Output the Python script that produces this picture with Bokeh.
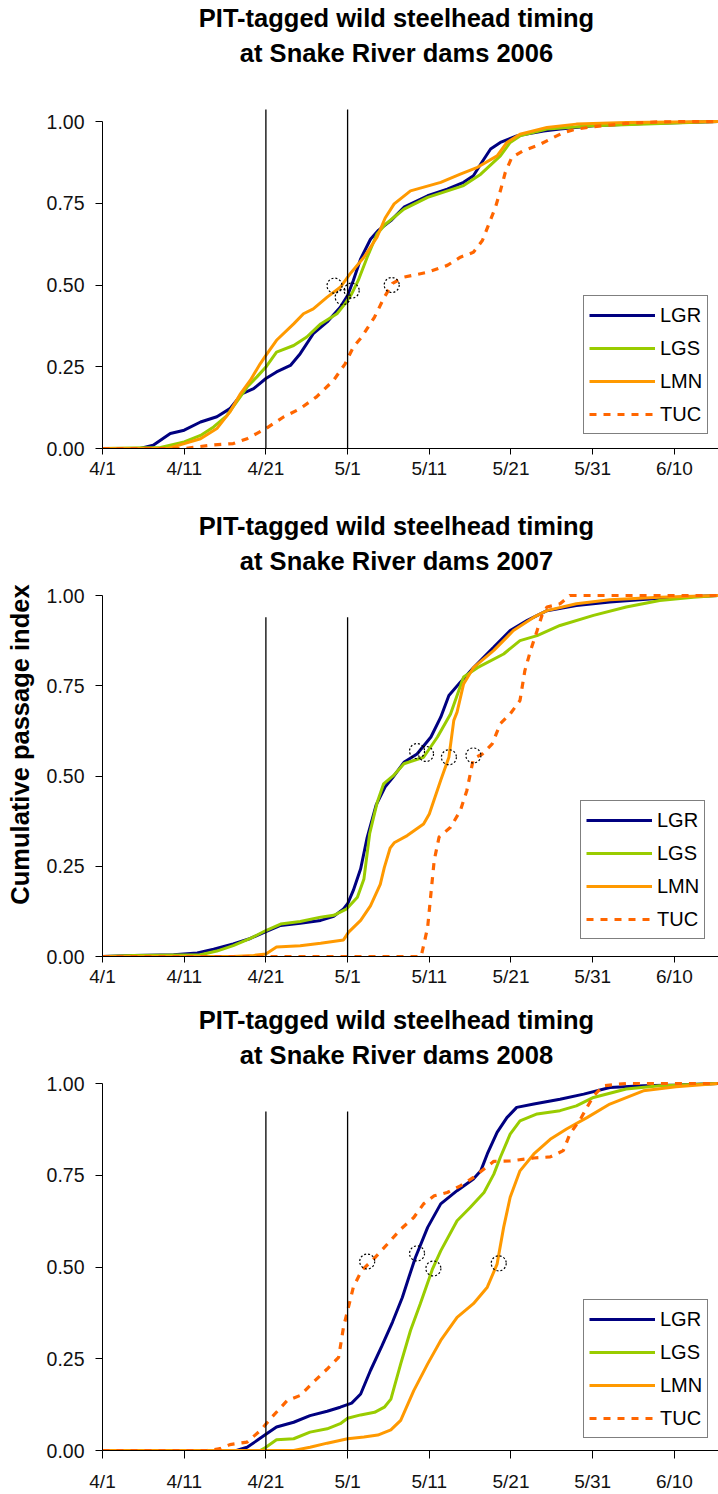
import math
from bokeh.plotting import figure
from bokeh.layouts import column, row
from bokeh.models import Range1d, FixedTicker, Legend, LegendItem, Label
from bokeh.embed import file_html
from bokeh.resources import INLINE

# ---------------- data ----------------
tick_days = [0, 10, 20, 30, 40, 50, 60, 70]
tick_labels = ["4/1", "4/11", "4/21", "5/1", "5/11", "5/21", "5/31", "6/10"]
y_ticks = [0, 0.25, 0.5, 0.75, 1.0]
y_tick_labels = ["0.00", "0.25", "0.50", "0.75", "1.00"]
sites = ["LGR", "LGS", "LMN", "TUC"]
years = ["2006", "2007", "2008"]
title_line1 = "PIT-tagged wild steelhead timing"
title_line2 = "at Snake River dams "
y_label = "Cumulative passage index"
vline_days = [20, 30]          # 4/21 and 5/1
vline_top = [1.037, 0.94, 0.924]

# 2006
lgr06_day = [0, 4.6, 6.2, 8.3, 10, 12, 14, 15.6, 17.1, 18.5, 20, 21.3, 23, 24.2, 25.8, 27.5, 29.1, 30, 30.7, 31.6, 32.8, 33.8, 35.3, 36.9, 39.8, 42.2, 44.2, 45.4, 46.3, 47.5, 48.7, 50.7, 54, 56, 60.1, 66.2, 71.1, 75.4]
lgr06_val = [0, 0, 0.01, 0.046, 0.056, 0.081, 0.097, 0.122, 0.168, 0.183, 0.214, 0.234, 0.254, 0.29, 0.351, 0.387, 0.432, 0.468, 0.514, 0.58, 0.64, 0.668, 0.697, 0.738, 0.773, 0.793, 0.814, 0.834, 0.87, 0.916, 0.936, 0.956, 0.971, 0.977, 0.987, 0.994, 0.997, 1.0]
lgs06_day = [0, 7.1, 10, 12, 13.6, 15.2, 16.4, 17.7, 18.9, 20, 21.3, 23.4, 25, 26.7, 28.7, 29.7, 30.5, 31.3, 32.4, 33.6, 34.6, 36.9, 39.8, 44.2, 46.3, 48.7, 49.9, 51.1, 54.4, 60.1, 66.6, 75.4]
lgs06_val = [0, 0.003, 0.02, 0.04, 0.066, 0.10, 0.142, 0.188, 0.219, 0.249, 0.295, 0.315, 0.341, 0.381, 0.412, 0.443, 0.473, 0.514, 0.585, 0.656, 0.685, 0.732, 0.768, 0.804, 0.839, 0.895, 0.936, 0.956, 0.977, 0.987, 0.992, 1.0]
lmn06_day = [0, 8, 10, 12, 14, 15.6, 16.9, 18.1, 19.3, 20, 21.3, 23.4, 24.6, 25.8, 27.5, 29.1, 30.3, 32, 33.6, 34.6, 35.7, 37.7, 41.4, 43.8, 45.9, 48.3, 49.5, 51.1, 54.4, 58, 64.1, 75.4]
lmn06_val = [0, 0, 0.015, 0.03, 0.061, 0.112, 0.168, 0.209, 0.259, 0.285, 0.331, 0.381, 0.412, 0.427, 0.463, 0.493, 0.534, 0.585, 0.646, 0.705, 0.748, 0.788, 0.814, 0.839, 0.86, 0.895, 0.936, 0.961, 0.982, 0.992, 0.997, 1.0]
tuc06_day = [0, 10, 13.2, 16, 17.7, 20, 22.2, 24.2, 26.2, 28.3, 29.7, 30.7, 31.7, 33.3, 34.5, 35.5, 36.9, 39.8, 42.2, 43.8, 45.4, 46.5, 47.3, 48.1, 48.7, 49.3, 50.1, 51.5, 53.2, 54.8, 56.4, 58, 60.1, 64.1, 68.2, 75.4]
tuc06_val = [0, 0, 0.01, 0.015, 0.03, 0.061, 0.097, 0.122, 0.158, 0.209, 0.259, 0.31, 0.34, 0.402, 0.463, 0.505, 0.524, 0.539, 0.56, 0.585, 0.6, 0.636, 0.687, 0.738, 0.788, 0.844, 0.89, 0.911, 0.926, 0.946, 0.966, 0.977, 0.984, 0.994, 0.999, 1.0]
med06_day = [28.4, 29.4, 30.5, 35.4]
med06_val = [0.498, 0.463, 0.483, 0.50]

# 2007
lgr07_day = [0, 3.8, 8.7, 11.6, 13.6, 16, 18.1, 20, 21.8, 24.2, 26.7, 28.3, 29.5, 30, 30.7, 31.6, 32.4, 33.5, 34.6, 35.5, 36.9, 38.5, 40.2, 41.4, 42.4, 43.8, 45.4, 47.9, 49.9, 52, 54.4, 58, 62.1, 67.4, 72.3, 75.4]
lgr07_val = [0, 0.003, 0.005, 0.01, 0.02, 0.035, 0.05, 0.069, 0.086, 0.092, 0.10, 0.111, 0.132, 0.146, 0.183, 0.243, 0.33, 0.42, 0.47, 0.495, 0.538, 0.561, 0.608, 0.663, 0.723, 0.76, 0.80, 0.857, 0.903, 0.931, 0.958, 0.972, 0.982, 0.991, 0.997, 1.0]
lgs07_day = [0, 3.8, 12, 14, 16, 18.1, 20, 21.8, 24.2, 26.7, 28.3, 29.9, 31.2, 32, 32.7, 33.6, 34.4, 35.6, 36.9, 39.3, 41, 42.6, 44.2, 45.9, 49.1, 51.1, 53.2, 56, 60.1, 64.1, 68.2, 72.3, 75.4]
lgs07_val = [0, 0.003, 0.005, 0.015, 0.03, 0.05, 0.072, 0.09, 0.097, 0.109, 0.114, 0.132, 0.164, 0.215, 0.34, 0.425, 0.478, 0.501, 0.534, 0.552, 0.608, 0.672, 0.774, 0.80, 0.838, 0.875, 0.889, 0.917, 0.945, 0.968, 0.986, 0.995, 1.0]
lmn07_day = [0, 16, 18.5, 20, 21.3, 24.2, 26.7, 29.5, 30.1, 31.6, 32.8, 34, 34.5, 35.2, 35.7, 37.3, 39.3, 40, 41.4, 42.4, 43, 43.4, 44.2, 45.4, 47.9, 50.3, 52.8, 54.4, 58, 62.1, 68.2, 75.4]
lmn07_val = [0, 0, 0.003, 0.007, 0.026, 0.03, 0.037, 0.046, 0.067, 0.10, 0.14, 0.20, 0.247, 0.30, 0.315, 0.335, 0.367, 0.395, 0.488, 0.552, 0.654, 0.677, 0.755, 0.80, 0.848, 0.903, 0.94, 0.958, 0.977, 0.988, 0.995, 1.0]
tuc07_day = [0, 39, 39.3, 39.8, 40.2, 40.6, 41.2, 42.6, 43.8, 44.6, 45.4, 46.5, 47.7, 48.7, 49.9, 51.1, 51.7, 52.4, 53.2, 53.8, 54.4, 56, 57.2, 75.4]
tuc07_val = [0, 0, 0.03, 0.081, 0.174, 0.266, 0.331, 0.358, 0.404, 0.46, 0.548, 0.561, 0.589, 0.645, 0.672, 0.709, 0.792, 0.848, 0.903, 0.945, 0.968, 0.977, 1.0, 1.0]
med07_day = [38.5, 39.6, 42.4, 45.4]
med07_val = [0.569, 0.561, 0.552, 0.557]

# 2008
lgr08_day = [0, 16.4, 17.7, 18.9, 20, 21.3, 23.4, 25.4, 27.5, 29.1, 30.5, 31.6, 32.8, 34.2, 35.5, 36.7, 37.5, 38.3, 39.8, 41.4, 43.4, 45.4, 46.3, 47.1, 48.3, 49.5, 50.7, 52.8, 56, 58.9, 62.1, 66.2, 70.2, 75.4]
lgr08_val = [0, 0, 0.009, 0.027, 0.044, 0.064, 0.077, 0.095, 0.107, 0.118, 0.129, 0.154, 0.218, 0.285, 0.35, 0.417, 0.472, 0.526, 0.608, 0.672, 0.708, 0.74, 0.762, 0.808, 0.867, 0.907, 0.935, 0.944, 0.957, 0.971, 0.989, 0.994, 0.996, 1.0]
lgs08_day = [0, 19.3, 20, 21.3, 23.4, 25.4, 27.5, 29.1, 30, 31.6, 33.3, 34.5, 35.3, 36.5, 37.7, 38.9, 40.4, 41.4, 43.4, 45, 46.7, 47.9, 48.7, 49.9, 51.1, 53.2, 56, 58, 60.1, 64.1, 68.2, 75.4]
lgs08_val = [0, 0, 0.009, 0.029, 0.032, 0.05, 0.059, 0.073, 0.088, 0.097, 0.104, 0.118, 0.14, 0.236, 0.327, 0.40, 0.495, 0.544, 0.626, 0.662, 0.703, 0.753, 0.799, 0.862, 0.898, 0.917, 0.926, 0.939, 0.962, 0.985, 0.994, 1.0]
lmn08_day = [0, 23.4, 25.4, 27.5, 30, 32, 33.7, 35.3, 36.5, 38.1, 39.8, 41.4, 43.4, 45.4, 47.1, 48.3, 49.1, 49.9, 51.1, 52.8, 54.8, 56.8, 59.3, 62.1, 66.2, 70.2, 75.4]
lmn08_val = [0, 0, 0.009, 0.02, 0.032, 0.037, 0.042, 0.056, 0.082, 0.163, 0.236, 0.30, 0.363, 0.40, 0.445, 0.508, 0.608, 0.69, 0.762, 0.808, 0.848, 0.876, 0.907, 0.944, 0.98, 0.991, 1.0]
tuc08_day = [0, 12.8, 14.4, 15.6, 17.7, 19.3, 20.9, 22.6, 24.2, 25.8, 27.5, 28.9, 29.5, 30, 30.7, 31.7, 33.2, 34.9, 36.5, 38.1, 39.3, 40.6, 42.2, 43.8, 45.4, 46.7, 47.9, 49.9, 52.8, 54.8, 56.4, 57.2, 58.5, 59.3, 60.1, 61.3, 64.1, 75.4]
tuc08_val = [0, 0, 0.005, 0.016, 0.023, 0.054, 0.095, 0.136, 0.15, 0.186, 0.222, 0.254, 0.336, 0.381, 0.445, 0.49, 0.522, 0.563, 0.603, 0.635, 0.672, 0.694, 0.703, 0.721, 0.744, 0.767, 0.788, 0.789, 0.797, 0.80, 0.817, 0.862, 0.903, 0.935, 0.966, 0.994, 1.0, 1.0]
med08_day = [32.4, 38.5, 40.5, 48.5]
med08_val = [0.515, 0.537, 0.496, 0.51]

series_by_year = [
    [(lgr06_day, lgr06_val), (lgs06_day, lgs06_val), (lmn06_day, lmn06_val), (tuc06_day, tuc06_val)],
    [(lgr07_day, lgr07_val), (lgs07_day, lgs07_val), (lmn07_day, lmn07_val), (tuc07_day, tuc07_val)],
    [(lgr08_day, lgr08_val), (lgs08_day, lgs08_val), (lmn08_day, lmn08_val), (tuc08_day, tuc08_val)],
]
medians_by_year = [(med06_day, med06_val), (med07_day, med07_val), (med08_day, med08_val)]

# ---------------- style / layout ----------------
FONT = "Liberation Sans"
colors = ["#000080", "#99cc00", "#ff9900", "#ff6600"]
dashes = ["solid", "solid", "solid", "7 7"]
YLAB_W = 40
TITLE_Y = (431, 396)   # screen offsets of the two title lines above the frame bottom

# frame covers the title area too (y axis itself is bounded to 0..1)
panel_cfg = [
    dict(w=718, h=490, left=102, y_end=448 / 327, bottom=42, xstand=3, xtick=6, leg=(481, 14)),
    dict(w=718 - YLAB_W, h=500, left=102 - YLAB_W, y_end=466 / 361, bottom=34, xstand=3, xtick=6, leg=(478, 17)),
    dict(w=718, h=504, left=102, y_end=460 / 367, bottom=44, xstand=12, xtick=8, leg=(481, 12)),
]


def make_panel(i, yr):
    cfg = panel_cfg[i]
    p = figure(width=cfg["w"], height=cfg["h"], output_backend="svg", toolbar_location=None,
               x_range=Range1d(0, 75.4), y_range=Range1d(0, cfg["y_end"]), title=None,
               min_border_left=cfg["left"], min_border_right=0, min_border_top=0,
               min_border_bottom=cfg["bottom"])
    p.outline_line_color = None
    p.xgrid.visible = False
    p.ygrid.visible = False
    p.background_fill_color = "white"
    p.border_fill_color = "white"

    for txt, ty in ((title_line1, TITLE_Y[0]), (title_line2 + yr, TITLE_Y[1])):
        p.add_layout(Label(x=294, y=ty, x_units="screen", y_units="screen", text=txt,
                           text_align="center", text_baseline="alphabetic",
                           text_font=FONT, text_font_size="25.5px", text_font_style="bold",
                           text_color="#000000"))

    renderers = []
    for (d, v), c, dash in zip(series_by_year[i], colors, dashes):
        r = p.line(d, v, line_color=c, line_width=3 if dash == "solid" else 3.2, line_dash=dash)
        renderers.append(r)

    p.segment(x0=vline_days, y0=[0] * len(vline_days), x1=vline_days,
              y1=[vline_top[i]] * len(vline_days), line_color="black", line_width=1.3)

    md, mv = medians_by_year[i]
    p.scatter(md, mv, marker="circle", size=15, fill_color=None, line_color="black",
              line_width=1.2, line_dash="2 2")

    xa = p.xaxis[0]
    xa.ticker = FixedTicker(ticks=tick_days)
    xa.major_label_overrides = {d: l for d, l in zip(tick_days, tick_labels)}
    xa.major_tick_in = 0
    xa.major_tick_out = cfg["xtick"]
    xa.minor_tick_line_color = None
    xa.major_label_standoff = cfg["xstand"]
    xa.axis_line_color = "black"
    xa.major_tick_line_color = "black"
    xa.major_label_text_font = FONT
    xa.major_label_text_font_size = "19px"
    xa.major_label_text_color = "#111111"

    ya = p.yaxis[0]
    ya.ticker = FixedTicker(ticks=y_ticks)
    ya.major_label_overrides = {v: l for v, l in zip(y_ticks, y_tick_labels)}
    ya.bounds = (0, 1)
    ya.major_tick_in = 0
    ya.major_tick_out = 7
    ya.minor_tick_line_color = None
    ya.major_label_standoff = 11
    ya.axis_line_color = "black"
    ya.major_tick_line_color = "black"
    ya.major_label_text_font = FONT
    ya.major_label_text_font_size = "19.5px"
    ya.major_label_text_color = "#111111"

    legend = Legend(items=[LegendItem(label=s, renderers=[r]) for s, r in zip(sites, renderers)],
                    location=cfg["leg"])
    legend.border_line_color = "black"
    legend.border_line_width = 1
    legend.background_fill_color = "white"
    legend.background_fill_alpha = 1
    legend.label_text_font = FONT
    legend.label_text_font_size = "20px"
    legend.label_text_color = "#000000"
    legend.glyph_width = 66
    legend.glyph_height = 28
    legend.spacing = 5
    legend.padding = 5
    legend.margin = 0
    legend.label_standoff = 5
    p.add_layout(legend, "center")
    return p


f1 = make_panel(0, years[0])
f2 = make_panel(1, years[1])
f3 = make_panel(2, years[2])

# narrow strip holding the shared y-axis title beside the middle panel
ylab = figure(width=YLAB_W, height=panel_cfg[1]["h"], output_backend="svg", toolbar_location=None,
              x_range=Range1d(0, 1), y_range=Range1d(0, 1), title=None,
              x_axis_location=None, y_axis_location=None, min_border=0)
ylab.outline_line_color = None
ylab.xgrid.visible = False
ylab.ygrid.visible = False
ylab.add_layout(Label(x=19.5, y=212, x_units="screen", y_units="screen", text=y_label,
                      angle=math.pi / 2, text_align="center", text_baseline="middle",
                      text_font=FONT, text_font_size="25.5px", text_font_style="bold",
                      text_color="#000000"))

layout = column(f1, row(ylab, f2, spacing=0), f3, spacing=0)
open("out.html", "w").write(file_html(layout, INLINE))
